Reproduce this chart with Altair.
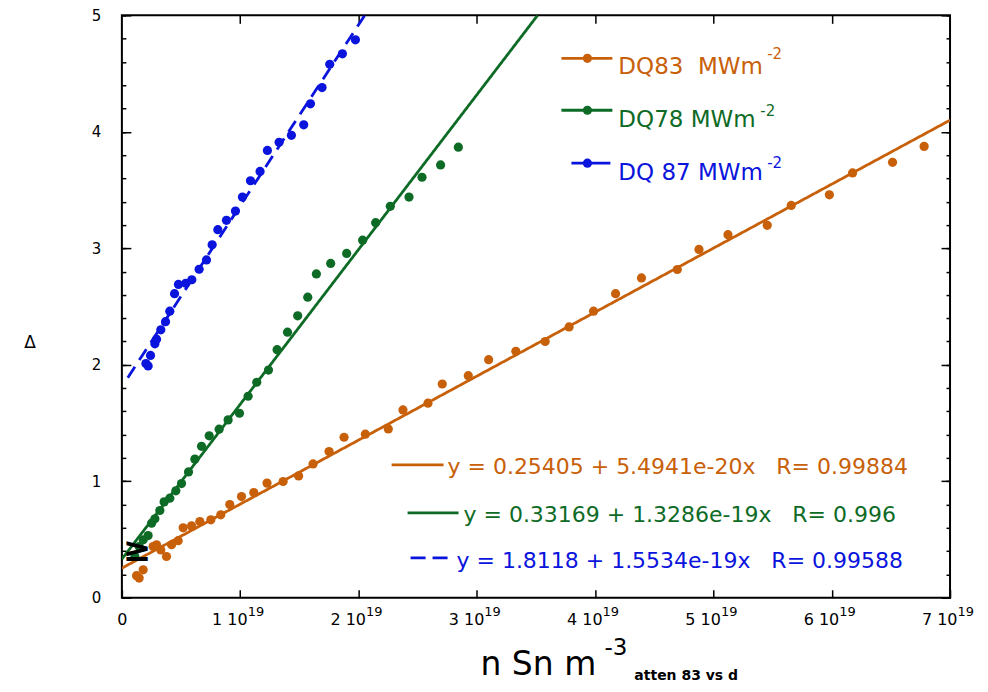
import altair as alt
import pandas as pd

FONT = "DejaVu Sans"
SERIES = ["DQ83", "DQ78", "DQ87"]
COLORS = ["#c8600a", "#0e6b26", "#0a14dc"]

# measured points (x in units of 1e19 m^-3)
dq83_x = [0.124, 0.146, 0.18, 0.264, 0.293, 0.329, 0.377, 0.42, 0.476, 0.518, 0.589, 0.659,
          0.752, 0.836, 0.912, 1.011, 1.115, 1.227, 1.363, 1.494, 1.616, 1.751, 1.878, 2.058,
          2.252, 2.376, 2.587, 2.708, 2.928, 3.10, 3.33, 3.578, 3.78, 3.987, 4.173, 4.392,
          4.695, 4.878, 5.123, 5.455, 5.658, 5.98, 6.176, 6.514, 6.781]
dq83_y = [0.189, 0.169, 0.24, 0.44, 0.455, 0.41, 0.354, 0.455, 0.49, 0.60, 0.617, 0.654,
          0.669, 0.712, 0.80, 0.869, 0.903, 0.984, 0.998, 1.046, 1.149, 1.255, 1.378, 1.404,
          1.449, 1.612, 1.67, 1.835, 1.906, 2.044, 2.116, 2.20, 2.325, 2.46, 2.61, 2.746,
          2.818, 2.99, 3.117, 3.197, 3.368, 3.459, 3.647, 3.738, 3.875]

dq78_x = [0.11, 0.146, 0.18, 0.222, 0.251, 0.279, 0.321, 0.357, 0.405, 0.456, 0.504, 0.563,
          0.617, 0.673, 0.738, 0.822, 0.898, 0.994, 1.067, 1.14, 1.239, 1.312, 1.40, 1.486,
          1.571, 1.644, 1.765, 1.90, 2.035, 2.145, 2.269, 2.427, 2.537, 2.694, 2.844]
dq78_y = [0.354, 0.44, 0.497, 0.534, 0.64, 0.678, 0.749, 0.823, 0.855, 0.918, 0.98, 1.08,
          1.19, 1.30, 1.39, 1.447, 1.527, 1.584, 1.73, 1.85, 1.955, 2.13, 2.28, 2.42,
          2.58, 2.78, 2.87, 2.956, 3.07, 3.22, 3.36, 3.44, 3.61, 3.716, 3.868]

dq87_x = [0.203, 0.222, 0.242, 0.279, 0.293, 0.329, 0.369, 0.405, 0.445, 0.478, 0.54, 0.591,
          0.653, 0.715, 0.763, 0.811, 0.884, 0.96, 1.019, 1.087, 1.168, 1.23, 1.329, 1.433,
          1.537, 1.594, 1.692, 1.757, 1.864, 1.974]
dq87_y = [2.01, 1.99, 2.08, 2.18, 2.22, 2.30, 2.37, 2.46, 2.61, 2.69, 2.70, 2.73,
          2.82, 2.90, 3.03, 3.16, 3.24, 3.32, 3.44, 3.58, 3.66, 3.84, 3.91, 3.97,
          4.06, 4.24, 4.38, 4.58, 4.67, 4.79]

# fit lines (from the equations printed on the chart)
fit_intercept = [0.25405, 0.33169, 1.8118]
fit_slope = [5.4941e-20, 1.3286e-19, 1.5534e-19]
fit_x_start = [0.0, 0.0, 0.05e19]
fit_x_end = [7.0e19, 3.514e19, 2.052e19]

legend_labels = ["DQ83  MWm", "DQ78 MWm", "DQ 87 MWm"]
legend_sup = ["-2", "-2", "-2"]
fit_labels = ["y = 0.25405 + 5.4941e-20x   R= 0.99884",
              "y = 0.33169 + 1.3286e-19x   R= 0.996",
              "y = 1.8118 + 1.5534e-19x   R= 0.99588"]

x_ticks = [0, 1e19, 2e19, 3e19, 4e19, 5e19, 6e19, 7e19]
y_major = [0, 1, 2, 3, 4, 5]
y_minor = [0, 0.2, 0.4, 0.6, 0.8, 1, 1.2, 1.4, 1.6, 1.8, 2, 2.2, 2.4, 2.6, 2.8, 3,
           3.2, 3.4, 3.6, 3.8, 4, 4.2, 4.4, 4.6, 4.8, 5]

# ---------- tables ----------
rows = []
for s, xs, ys in zip(SERIES, [dq83_x, dq78_x, dq87_x], [dq83_y, dq78_y, dq87_y]):
    for a, b in zip(xs, ys):
        rows.append({"series": s, "n": a * 1e19, "delta": b})
pts = pd.DataFrame(rows)

frows = []
for s, b0, m, xa, xb in zip(SERIES, fit_intercept, fit_slope, fit_x_start, fit_x_end):
    for xv in (xa, xb):
        frows.append({"series": s, "n": xv, "delta": b0 + m * xv})
fits = pd.DataFrame(frows)

W, H = 829, 583
xscale = alt.Scale(domain=[0, 7e19], nice=False, zero=False)
yscale = alt.Scale(domain=[0, 5], nice=False, zero=False)
color = alt.Color("series:N", scale=alt.Scale(domain=SERIES, range=COLORS), legend=None)
dash = alt.StrokeDash("series:N", scale=alt.Scale(domain=SERIES, range=[[1, 0], [1, 0], [13, 8]]),
                      legend=None)


def ax(orient, values, size, labels=False, **kw):
    return alt.Axis(orient=orient, values=values, tickSize=size, offset=-size, domain=False,
                    grid=False, title=None, labels=labels, ticks=True, tickColor="black",
                    tickWidth=1.5, **kw)


is0 = "datum.value == 0"
xlab = "datum.value == 0 ? '0' : format(datum.value / 1e19, 'd') + ' 10'"
xsup = "datum.value == 0 ? '' : '19'"

lines = alt.Chart(fits).mark_line(strokeWidth=2.8, clip=True).encode(
    x=alt.X("n:Q", scale=xscale,
            axis=ax("bottom", x_ticks, 8, labels=True, labelExpr=xlab, labelFont=FONT,
                    labelFontSize=16, labelPadding=14, labelColor="black", labelFlush=False,
                    labelOverlap=False,
                    labelAlign={"condition": {"test": is0, "value": "center"}, "value": "right"},
                    labelOffset={"condition": {"test": is0, "value": 0}, "value": 7})),
    y=alt.Y("delta:Q", scale=yscale,
            axis=ax("left", y_major, 9, labels=True, labelFont=FONT, labelFontSize=15,
                    labelPadding=21, labelColor="black")),
    color=color, strokeDash=dash, detail="series:N")

points = alt.Chart(pts).mark_circle(size=85, opacity=1).encode(
    x=alt.X("n:Q", scale=xscale, axis=ax("top", x_ticks[1:-1], 8)),
    y=alt.Y("delta:Q", scale=yscale, axis=ax("left", y_minor, 4)),
    color=color)

right_major = alt.Chart(fits).mark_line(opacity=0).encode(
    x=alt.X("n:Q", scale=xscale,
            axis=alt.Axis(orient="bottom", values=x_ticks, ticks=False, domain=False, grid=False,
                          title=None, labelExpr=xsup, labelFont=FONT, labelFontSize=13,
                          labelPadding=8, labelColor="black", labelAlign="left", labelOffset=7,
                          labelFlush=False, labelOverlap=False)),
    y=alt.Y("delta:Q", scale=yscale, axis=ax("right", y_major, 9)),
    detail="series:N")
right_minor = alt.Chart(fits).mark_line(opacity=0).encode(
    x=alt.X("n:Q", scale=xscale, axis=None),
    y=alt.Y("delta:Q", scale=yscale, axis=ax("right", y_minor, 4)),
    detail="series:N")


def one():
    return pd.DataFrame({"k": [0]})


def txt(s, x, y, size, col, weight="normal", align="left", baseline="alphabetic"):
    s = s.replace("  ", "\u00a0\u00a0")
    return alt.Chart(pd.DataFrame({"t": [s]})).mark_text(
        align=align, baseline=baseline, font=FONT, fontSize=size, color=col,
        fontWeight=weight).encode(x=alt.value(x), y=alt.value(y), text="t:N")


def rule(x1, x2, y, col, dsh=None):
    kw = {"strokeDash": dsh} if dsh else {}
    return alt.Chart(one()).mark_rule(color=col, strokeWidth=2.8, **kw).encode(
        x=alt.value(x1), x2=alt.value(x2), y=alt.value(y))


def dot(x, y, col):
    return alt.Chart(one()).mark_circle(size=85, opacity=1, color=col).encode(
        x=alt.value(x), y=alt.value(y))


ann = []
# legend (upper right)
leg_y = [43, 95, 148]
leg_base = [59, 112, 165]
leg_sup_base = [44, 101, 153]
leg_line = [(440, 491), (440, 491), (450, 489)]
leg_sup_x = [646, 639, 646]
for i in range(3):
    ann.append(rule(leg_line[i][0], leg_line[i][1], leg_y[i], COLORS[i]))
    ann.append(dot(466, leg_y[i], COLORS[i]))
    ann.append(txt(legend_labels[i], 497, leg_base[i], 23, COLORS[i]))
    ann.append(txt(legend_sup[i], leg_sup_x[i], leg_sup_base[i], 15, COLORS[i]))

# fit equations (lower right)
eq_line = [(270, 322, 450, None), (286, 337, 498, None), (289, 326, 543, [15, 7])]
eq_pos = [(326, 459), (342, 507), (335, 553)]
for i in range(3):
    x1, x2, yy, dd = eq_line[i]
    ann.append(rule(x1, x2, yy, COLORS[i], dd))
    ann.append(txt(fit_labels[i], eq_pos[i][0], eq_pos[i][1], 22, COLORS[i]))

# axis titles and small texts
ann.append(txt("\u0394", -92, 328, 17, "black", align="center", baseline="middle"))
ann.append(txt("n Sn m", 359, 660, 33, "black"))
ann.append(txt("-3", 483, 640, 23, "black"))
ann.append(txt("atten 83 vs d", 513, 665, 14, "black", weight="bold"))
ann.append(txt("\u2265", 15, 536, 34, "black", weight="bold", align="center", baseline="middle"))

chart = alt.layer(lines, points, right_major, right_minor, *ann).resolve_axis(
    x="independent", y="independent"
).properties(
    width=W, height=H,
    padding={"left": 114, "top": 7, "right": 30, "bottom": 86},
    autosize=alt.AutoSizeParams(type="none"),
    background="white",
).configure_view(stroke="black", strokeWidth=2)

chart.save("out.html", embed_options={"renderer": "svg", "actions": False})
